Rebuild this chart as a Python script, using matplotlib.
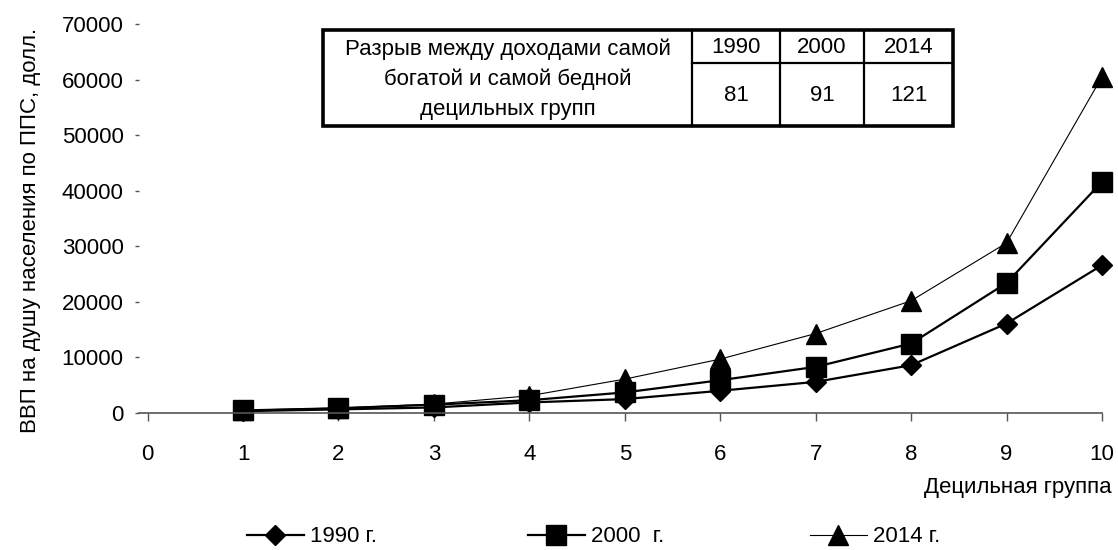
import matplotlib
matplotlib.use("Agg")
import matplotlib.pyplot as plt

plt.rcParams['font.family'] = ['Liberation Sans', 'DejaVu Sans']

# ---- data ----
deciles = [1, 2, 3, 4, 5, 6, 7, 8, 9, 10]
gdp_1990 = [330, 650, 1000, 1900, 2500, 4000, 5600, 8600, 16100, 26600]
gdp_2000 = [460, 850, 1500, 2300, 3700, 5900, 8300, 12500, 23400, 41600]
gdp_2014 = [500, 900, 1600, 3100, 6100, 9700, 14300, 20200, 30600, 60500]
series_labels = ['1990 г.', '2000  г.', '2014 г.']
x_ticks = list(range(0, 11))
y_ticks = list(range(0, 70001, 10000))
gap_caption = 'Разрыв между доходами самой\nбогатой и самой бедной\nдецильных групп'
gap_years = ['1990', '2000', '2014']
gap_values = ['81', '91', '121']

W, H = 1118, 550
fig = plt.figure(figsize=(W / 100, H / 100), dpi=100)
FS = 16

ax = fig.add_axes([139 / W, 1 - 413 / H, (1102 - 139) / W, (413 - 24) / H])

styles = [
    dict(marker='D', markersize=10, linewidth=1.6),
    dict(marker='s', markersize=14.5, linewidth=1.6),
    dict(marker='^', markersize=15, linewidth=0.8),
]
handles = []
for vals, st, lab in zip([gdp_1990, gdp_2000, gdp_2014], styles, series_labels):
    h, = ax.plot(deciles, vals, color='black', markerfacecolor='black',
                 markeredgecolor='black', label=lab, clip_on=False, **st)
    handles.append(h)

ax.set_xlim(-0.09, 10)
ax.set_ylim(0, 70000)
ax.set_xticks(x_ticks)
ax.set_yticks(y_ticks)
ax.tick_params(axis='x', labelsize=FS, direction='out', length=6, width=1,
               color='#555555', pad=16)
ax.tick_params(axis='y', labelsize=FS, direction='out', length=3, width=1,
               color='#555555', pad=8)
for s in ['top', 'right', 'left']:
    ax.spines[s].set_visible(False)
ax.spines['bottom'].set_color('#555555')
ax.spines['bottom'].set_linewidth(1.2)
ax.spines['bottom'].set_position(('data', 0))

fig.text(1112 / W, 1 - 488 / H, 'Децильная группа', ha='right', va='center', fontsize=FS)
fig.text(31 / W, 1 - 230 / H, 'ВВП на душу населения по ППС, долл.', rotation=90,
         ha='center', va='center', fontsize=FS)

# ---- table ----
L, R, T, B = 323, 953, 30, 126
tax = fig.add_axes([L / W, 1 - B / H, (R - L) / W, (B - T) / H])
tax.set_xlim(L, R)
tax.set_ylim(B, T)
tax.axis('off')
col_edges = [L, 692, 780, 864, R]
mid_y = 63
tax.add_patch(plt.Rectangle((L, T), R - L, B - T, fill=False, edgecolor='black',
                            linewidth=2.6, clip_on=False))
for xe in col_edges[1:-1]:
    tax.plot([xe, xe], [T, B], color='black', linewidth=1.6, clip_on=False)
tax.plot([col_edges[1], R], [mid_y, mid_y], color='black', linewidth=1.6, clip_on=False)
tax.text((col_edges[0] + col_edges[1]) / 2, (T + B) / 2 + 1, gap_caption,
         ha='center', va='center', fontsize=FS, linespacing=1.55)
for i, (yr, v) in enumerate(zip(gap_years, gap_values)):
    cx = (col_edges[i + 1] + col_edges[i + 2]) / 2
    tax.text(cx, (T + mid_y) / 2 + 1, yr, ha='center', va='center', fontsize=FS)
    tax.text(cx, (mid_y + B) / 2 + 1, v, ha='center', va='center', fontsize=FS)

# ---- legend ----
leg_x = [247, 528, 810]
for h, lx in zip(handles, leg_x):
    fig.legend([h], [h.get_label()], loc='center left',
               bbox_to_anchor=(lx / W, 1 - 537 / H), frameon=False,
               fontsize=FS, handlelength=2.55, handletextpad=0.3,
               borderpad=0, borderaxespad=0, numpoints=1)

fig.savefig('out.png', dpi=100)
